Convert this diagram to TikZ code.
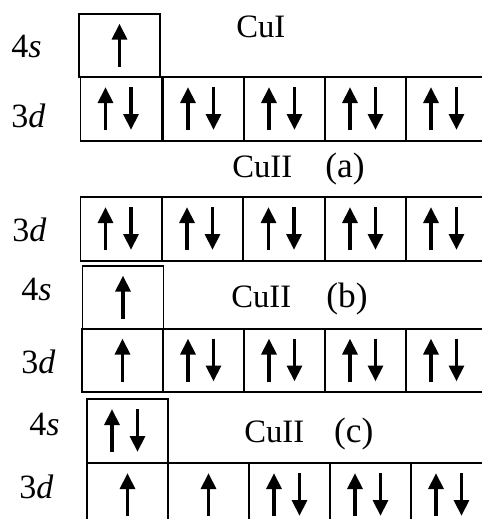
\documentclass[tikz,border=0pt]{standalone}
\usepackage{fontspec}
\setmainfont{Liberation Serif}
\usetikzlibrary{arrows.meta}
\newcommand{\parlbl}[1]{{\fontsize{26.5}{30}\selectfont(#1)}}
\tikzset{
  orb/.style={draw, line width=1.4pt, minimum width=60.75pt, minimum height=48pt, inner sep=0pt},
  orbs/.style={orb, minimum height=47.25pt},
  spin/.style={line width=2.8pt, -{Triangle[width=11pt,length=12pt]}},
  lbl/.style={anchor=base west, inner sep=0pt, font=\fontsize{25.5}{30}\selectfont},
  culbl/.style={anchor=base west, inner sep=0pt, font=\fontsize{24.5}{29}\selectfont},
  pairspin/.pic={\draw[spin] (-15.5,21) -- (-15.5,-22); \draw[spin] (10,-22) -- (10,21);},
  onespin/.pic={\draw[spin] (0,21) -- (0,-22);}
}
\begin{document}
\begin{tikzpicture}[x=0.75pt,y=-0.75pt]
\useasboundingbox (0,0) rectangle (482,519);
\clip (0,0) rectangle (482,519);
% CuI
\node[orbs] (s1) at (119.5,45.5) {};
\pic at (s1.center) {onespin};
\foreach \x [count=\i] in {121,203.5,284.5,365.5,446.5} {
  \node[orb] (d1\i) at (\x,109) {};
  \pic at (d1\i.center) {pairspin};
}
\node[lbl] (l4s1) at (11,57) {4\textit{s}};
\node[lbl] (l3d1) at (11,127) {3\textit{d}};
\node[culbl] (t1) at (236,37) {CuI};
% CuII (a)
\node[culbl] (t2) at (232,177) {CuII\hspace{25pt}\parlbl{a}};
\foreach \x [count=\i] in {121,202.5,284,365.5,446.5} {
  \node[orb] (d2\i) at (\x,229) {};
  \pic at (d2\i.center) {pairspin};
}
\node[lbl] (l3d2) at (12,241) {3\textit{d}};
% CuII (b)
\node[orbs] (s3) at (123,297.5) {};
\pic at (s3.center) {onespin};
\node[lbl] (l4s3) at (21,300) {4\textit{s}};
\node[culbl] (t3) at (231,307) {CuII\hspace{26.5pt}\parlbl{b}};
\foreach \x [count=\i] in {122.5,203.5,284.5,365.5,446.5} {
  \node[orbs] (d3\i) at (\x,360.5) {};
}
\pic at (d31.center) {onespin};
\foreach \i in {2,3,4,5} {\pic at (d3\i.center) {pairspin};}
\node[lbl] (l3d3) at (21,373) {3\textit{d}};
% CuII (c)
\node[orb] (s4) at (127.5,431) {};
\pic at (s4.center) {pairspin};
\node[lbl] (l4s4) at (29,435) {4\textit{s}};
\node[culbl] (t4) at (244,442) {CuII\hspace{22.5pt}\parlbl{c}};
\foreach \x [count=\i] in {127.5,208.5,289.5,370.5,451.5} {
  \node[orb] (d4\i) at (\x,495) {};
}
\pic at (d41.center) {onespin};
\pic at (d42.center) {onespin};
\foreach \i in {3,4,5} {\pic at (d4\i.center) {pairspin};}
\node[lbl] (l3d4) at (19,498) {3\textit{d}};
\end{tikzpicture}
\end{document}
